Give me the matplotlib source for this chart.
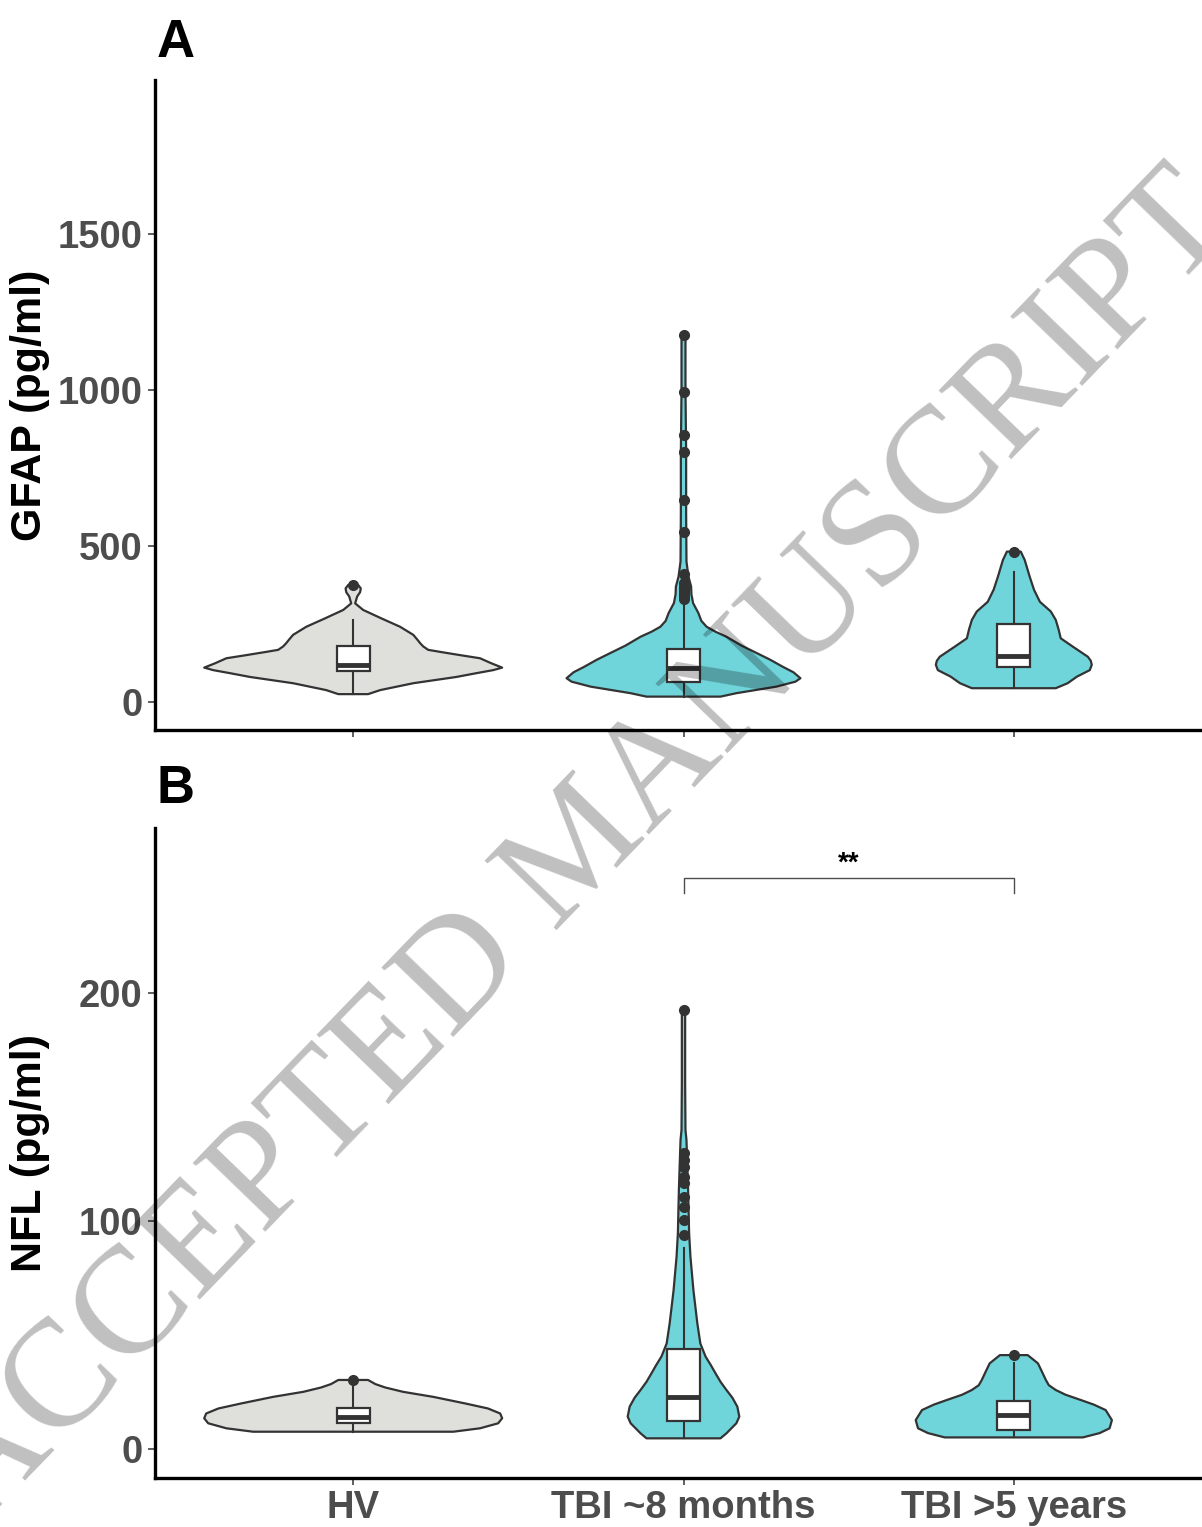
import matplotlib
matplotlib.use('Agg')
import matplotlib.pyplot as plt
import numpy as np

groups = ['HV', 'TBI ~8 months', 'TBI >5 years']
fills = ['#DFE0DC', '#70D4DB', '#70D4DB']

# violin outlines: values and half widths (x units)
gfap_vals = [
    [25, 38, 60, 80, 92, 102, 110, 124, 140, 150, 160, 167, 178, 188, 200, 215, 241, 268, 295, 316, 338, 352, 364, 375],
    [17, 28, 49, 65, 76, 95, 113, 135, 157, 181, 209, 225, 241, 260, 285, 317, 345, 370, 402, 450, 600, 800, 1000, 1176],
    [44, 60, 81, 102, 119, 132, 145, 177, 204, 231, 263, 290, 321, 360, 402, 455, 482],
]
gfap_hw = [
    [0.045, 0.082, 0.182, 0.312, 0.372, 0.424, 0.451, 0.418, 0.384, 0.324, 0.266, 0.227, 0.212, 0.203, 0.194, 0.182, 0.142, 0.085, 0.030, 0.006, 0.012, 0.021, 0.023, 0.015],
    [0.112, 0.160, 0.281, 0.339, 0.354, 0.333, 0.300, 0.263, 0.221, 0.175, 0.130, 0.097, 0.070, 0.054, 0.045, 0.029, 0.024, 0.023, 0.015, 0.009, 0.008, 0.008, 0.006, 0.006],
    [0.127, 0.163, 0.191, 0.230, 0.236, 0.233, 0.224, 0.179, 0.142, 0.136, 0.127, 0.112, 0.079, 0.061, 0.048, 0.033, 0.021],
]
nfl_vals = [
    [7.6, 9.1, 11.3, 13.5, 15.6, 17.8, 20, 22.9, 25.1, 27, 28.5, 30.3],
    [4.7, 6.9, 11.3, 14.2, 18.6, 22.5, 25.9, 29.5, 33.2, 37, 40.5, 46.3, 55, 69.7, 84.4, 94.7, 113.6, 135.5, 140, 160, 192.5],
    [5.1, 7, 9.1, 12.7, 17.1, 19.5, 21.5, 23.8, 25.9, 28, 30.3, 34, 37.6, 41.2],
]
nfl_hw = [
    [0.303, 0.384, 0.439, 0.451, 0.445, 0.408, 0.339, 0.242, 0.151, 0.097, 0.067, 0.045],
    [0.112, 0.130, 0.160, 0.169, 0.163, 0.148, 0.130, 0.112, 0.097, 0.082, 0.067, 0.051, 0.042, 0.030, 0.021, 0.017, 0.014, 0.009, 0.006, 0.005, 0.005],
    [0.209, 0.260, 0.290, 0.297, 0.278, 0.242, 0.203, 0.157, 0.127, 0.106, 0.097, 0.085, 0.073, 0.042],
]

# box stats: whisker low, q1, median, q3, whisker high
gfap_box = [[25, 100, 118.6, 179, 263], [16, 65, 108, 169, 321], [44, 113, 148, 249, 418]]
nfl_box = [[7.6, 11.3, 14.2, 18.1, 27.3], [4.7, 12.4, 22.9, 43.7, 88], [5.4, 8.3, 14.9, 21.1, 37.6]]
gfap_out = [[375], [330, 340, 350, 360, 370, 380, 410, 546, 647, 802, 856, 995, 1176], [482]]
nfl_out = [[30.3], [93.9, 100.4, 106.3, 110.7, 116.6, 119.4, 123.8, 126.8, 129.7, 192.5], [41.2]]

gfap_ticks = [0, 500, 1000, 1500]
nfl_ticks = [0, 100, 200]

plt.rcParams['font.family'] = ['Liberation Sans', 'DejaVu Sans']
edge = '#333333'

fig = plt.figure(figsize=(12.02, 15.27), dpi=100)
axA = fig.add_axes([155 / 1202, 1 - 730 / 1527, 1057 / 1202, 650 / 1527])
axB = fig.add_axes([155 / 1202, 1 - 1478 / 1527, 1057 / 1202, 650 / 1527])


def draw_panel(ax, vals, hws, boxes, outs, ylim, ticks):
    for i in range(3):
        x = i + 1
        v = np.array(vals[i])
        w = np.array(hws[i])
        ax.fill(np.r_[x - w, (x + w)[::-1]], np.r_[v, v[::-1]],
                facecolor=fills[i], edgecolor=edge, linewidth=1.6, zorder=2,
                joinstyle='round')
        lo, q1, med, q3, hi = boxes[i]
        ax.plot([x, x], [lo, q1], color=edge, lw=1.5, zorder=3)
        ax.plot([x, x], [q3, hi], color=edge, lw=1.5, zorder=3)
        ax.add_patch(plt.Rectangle((x - 0.05, q1), 0.1, q3 - q1, facecolor='white',
                                   edgecolor=edge, lw=1.6, zorder=4))
        ax.plot([x - 0.05, x + 0.05], [med, med], color=edge, lw=3.5, zorder=5,
                solid_capstyle='butt')
        ax.plot([x] * len(outs[i]), outs[i], 'o', color=edge, ms=7, zorder=6)
    ax.set_xlim(0.4, 3.6)
    ax.set_ylim(*ylim)
    ax.set_yticks(ticks)
    ax.set_xticks([1, 2, 3])
    for s in ['top', 'right']:
        ax.spines[s].set_visible(False)
    for s in ['left', 'bottom']:
        ax.spines[s].set_linewidth(2.4)
        ax.spines[s].set_color('black')
    ax.tick_params(length=5, width=1.1, color=edge, labelsize=27.5,
                   labelcolor='#4D4D4D', pad=4)
    for lab in ax.get_yticklabels() + ax.get_xticklabels():
        lab.set_fontweight('bold')


draw_panel(axA, gfap_vals, gfap_hw, gfap_box, gfap_out, (-90, 1994), gfap_ticks)
axA.set_xticklabels([])
draw_panel(axB, nfl_vals, nfl_hw, nfl_box, nfl_out, (-12.7, 272.4), nfl_ticks)
axB.set_xticklabels(groups, fontweight='bold')

# significance bracket
axB.plot([2, 2, 3, 3], [243.9, 250.4, 250.4, 243.9], color='#4D4D4D', lw=1.0)
axB.text(2.5, 253.5, '**', ha='center', va='baseline', fontsize=20, fontweight='bold')

fig.text(30 / 1202, 1 - 405 / 1527, 'GFAP (pg/ml)', rotation=90, ha='center', va='center',
         fontsize=31, fontweight='bold')
fig.text(30 / 1202, 1 - 1153 / 1527, 'NFL (pg/ml)', rotation=90, ha='center', va='center',
         fontsize=31, fontweight='bold')
fig.text(157 / 1202, 1 - 57 / 1527, 'A', ha='left', va='baseline', fontsize=38, fontweight='bold')
fig.text(157 / 1202, 1 - 803 / 1527, 'B', ha='left', va='baseline', fontsize=38, fontweight='bold')

# watermark
fig.text(582 / 1202, 1 - 851 / 1527, 'ACCEPTED MANUSCRIPT', rotation=46,
         rotation_mode='anchor', ha='center', va='center', fontsize=110,
         family=['Liberation Serif', 'DejaVu Serif'], color='black', alpha=0.25, zorder=10)

fig.savefig('out.png', dpi=100)
